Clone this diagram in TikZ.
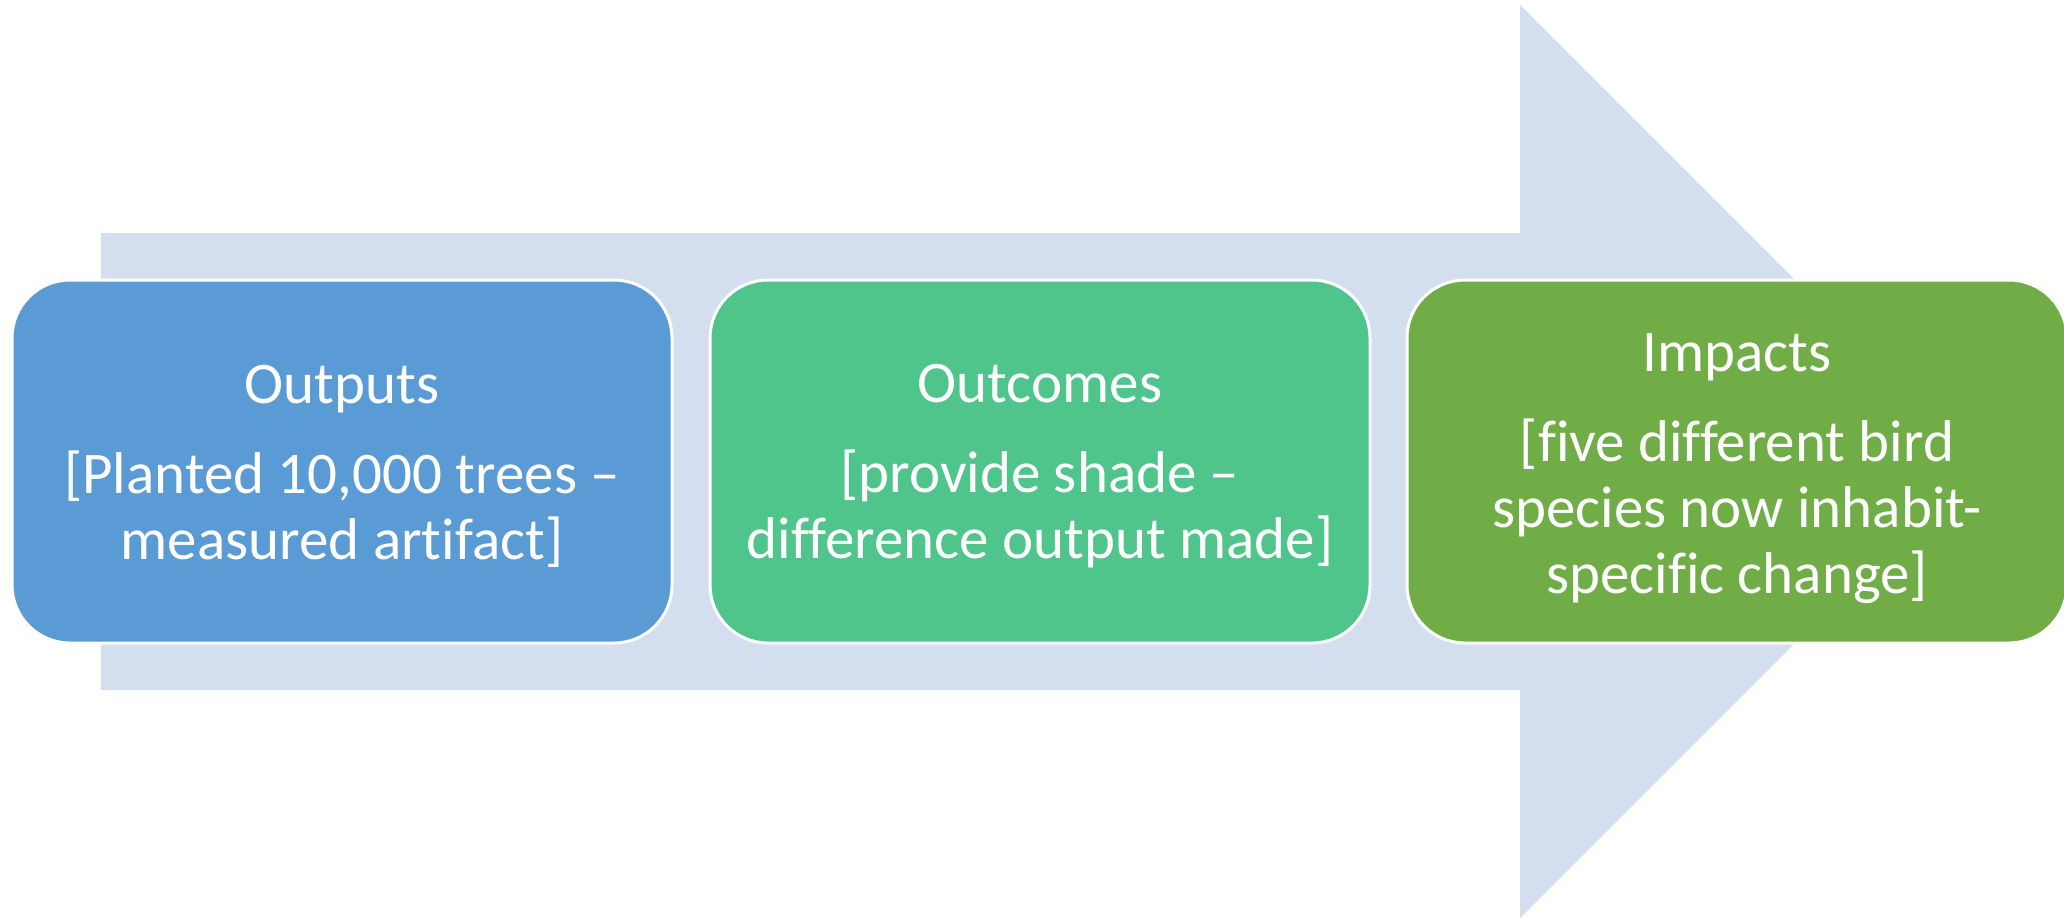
\documentclass[tikz,border=0pt]{standalone}
\usepackage{fontspec}
\setmainfont{Carlito}[Ligatures=CommonOff]
\definecolor{arrowfill}{HTML}{D3DEEF}
\definecolor{outblue}{HTML}{5B9BD5}
\definecolor{outgreen}{HTML}{4FC58C}
\definecolor{impgreen}{HTML}{70AD47}
\tikzset{
  stage/.style={rounded corners=29pt, draw=white, line width=1.5pt,
    minimum width=330pt, minimum height=181.5pt, inner sep=0pt, outer sep=0pt},
  stagetext/.style={text=white, align=center, inner sep=0pt,
    font=\fontsize{29.5}{33}\selectfont},
}
\begin{document}
\begin{tikzpicture}[x=0.5pt,y=-0.5pt]
  \useasboundingbox (0,0) rectangle (2064,917);
  % broad background arrow
  \fill[arrowfill] (101,233) -- (1520,233) -- (1520,5) -- (1976.5,461.5)
    -- (1520,918) -- (1520,690) -- (101,690) -- cycle;
  % three stages
  \node[stage, fill=outblue] (outputs) at (342,461.5) {};
  \node[stage, fill=outgreen] (outcomes) at (1040,461.5) {};
  \node[stage, fill=impgreen] (impacts) at (1737,461.5) {};
  % stage captions
  \node[stagetext] (outputs-text) at ([yshift=-2.5pt]outputs.center)
    {Outputs\\[12pt][Planted 10,000 trees –\\measured artifact]};
  \node[stagetext] (outcomes-text) at ([yshift=-2.5pt]outcomes.center)
    {Outcomes\\[12pt][provide shade –\\difference output made]};
  \node[stagetext] (impacts-text) at ([yshift=-3.8pt]impacts.center)
    {Impacts\\[12pt][five different bird\\species now inhabit-\\specific change]};
\end{tikzpicture}
\end{document}
